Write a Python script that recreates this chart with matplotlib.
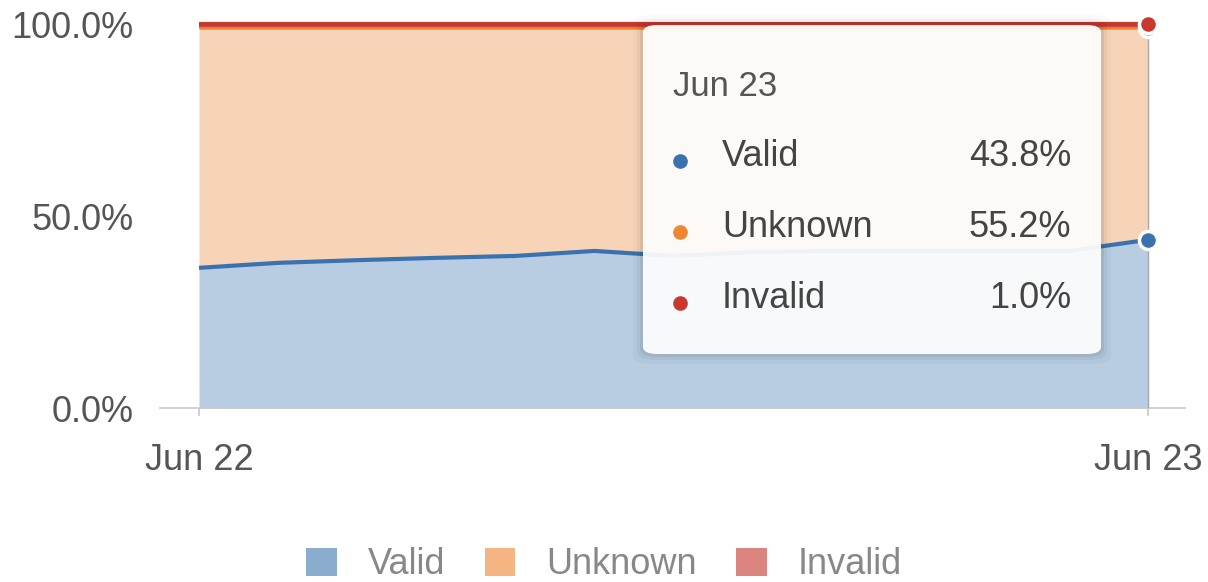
#!/usr/bin/env python3
"""Stacked share of Valid / Unknown / Invalid, Jun 22 -> Jun 23, with hover tooltip"""
import matplotlib
matplotlib.use('Agg')
import matplotlib.pyplot as plt
from matplotlib.patches import FancyBboxPatch, Patch

plt.rcParams['font.family'] = ['Liberation Sans', 'DejaVu Sans']

# hours since Jun 22 00:00, 2h steps
hours = [0, 2, 4, 6, 8, 10, 12, 14, 16, 18, 20, 22, 24]
valid = [36.5, 37.8, 38.5, 39.1, 39.6, 40.9, 39.6, 40.6, 40.9, 40.9, 40.9, 40.9, 43.8]
invalid = [1.0, 1.0, 1.0, 1.0, 1.0, 1.0, 1.0, 1.0, 1.0, 1.0, 1.0, 1.0, 1.0]
unknown = [100 - v - i for v, i in zip(valid, invalid)]
tick_hours = [0, 24]
tick_labels = ['Jun 22', 'Jun 23']
series_names = ['Valid', 'Unknown', 'Invalid']

BLUE = '#3a72b0'
ORANGE = '#f0862f'
RED = '#c9382f'
FILL_BLUE = '#b8cce2'
FILL_ORANGE = '#f7d4b7'
LEG_COLORS = ['#8aaccf', '#f4b583', '#dc8580']
FS = 26

W, H = 1208, 582
fig = plt.figure(figsize=(W / 100, H / 100), dpi=100)
ax = fig.add_axes([160 / W, 1 - 408 / H, (1185 - 160) / W, (408 - 24) / H])

top_unknown = [v + u for v, u in zip(valid, unknown)]
top = [t + i for t, i in zip(top_unknown, invalid)]

ax.fill_between(hours, 0, valid, color=FILL_BLUE, lw=0)
ax.fill_between(hours, valid, top_unknown, color=FILL_ORANGE, lw=0)
ax.fill_between(hours, top_unknown, top, color=RED, lw=0, alpha=0.9)
ax.plot(hours, valid, color=BLUE, lw=3.0, solid_capstyle='butt')
ax.plot(hours, top_unknown, color=ORANGE, lw=1.8, solid_capstyle='butt')
ax.plot(hours, top, color=RED, lw=3.0, solid_capstyle='butt', clip_on=False)

# x from 160px..1185px with data 0 at 199px and 24 at 1148px
px = (1148 - 199) / 24
ax.set_xlim(-(199 - 160) / px, 24 + (1185 - 1148) / px)
ax.set_ylim(0, 100)

ax.set_yticks([0, 50, 100])
ax.set_yticklabels(['0.0%', '50.0%', '100.0%'])
ax.set_xticks(tick_hours)
ax.set_xticklabels(tick_labels)
ax.tick_params(axis='y', length=0, pad=19, labelsize=FS, labelcolor='#555555')
ax.tick_params(axis='x', length=6, width=1.2, color='#c8c8c8', pad=19,
               labelsize=FS, labelcolor='#555555')
for side in ['left', 'right', 'top']:
    ax.spines[side].set_visible(False)
ax.spines['bottom'].set_color('#c8c8c8')
ax.spines['bottom'].set_linewidth(1.2)

# hover crosshair + markers at last point
hx = hours[-1]
ax.axvline(hx, color='#a8a8a8', lw=1.0, zorder=3)
ax.plot([hx], [top_unknown[-1]], 'o', ms=13, color=ORANGE, mec='white', mew=2.5,
        clip_on=False, zorder=5)
ax.plot([hx], [top[-1]], 'o', ms=13, color=RED, mec='white', mew=2.5,
        clip_on=False, zorder=6)
ax.plot([hx], [valid[-1]], 'o', ms=13, color=BLUE, mec='white', mew=2.5,
        clip_on=False, zorder=6)

# tooltip box (figure pixel coords)
x0, y0, x1, y1 = 643, 25, 1101, 354
for k, a in [(10, 0.025), (6, 0.04), (3, 0.06)]:
    fig.patches.append(FancyBboxPatch(
        ((x0 - k) / W, 1 - (y1 + k) / H), (x1 - x0 + 2 * k) / W, (y1 - y0 + 2 * k) / H,
        boxstyle='round,pad=0,rounding_size=0.015', transform=fig.transFigure,
        facecolor='#000000', edgecolor='none', alpha=a, zorder=7))
fig.patches.append(FancyBboxPatch(
    (x0 / W, 1 - y1 / H), (x1 - x0) / W, (y1 - y0) / H,
    boxstyle='round,pad=0,rounding_size=0.012', transform=fig.transFigure,
    facecolor='white', edgecolor='none', alpha=0.93, zorder=8))

fig.text(673 / W, 1 - 86 / H, 'Jun 23', fontsize=FS - 1, color='#555555',
         va='center', ha='left', zorder=9)
tip_vals = [valid[-1], unknown[-1], invalid[-1]]
tip_colors = [BLUE, ORANGE, RED]
for row, (name, val, c) in enumerate(zip(series_names, tip_vals, tip_colors)):
    yy = 1 - (157 + 71 * row) / H
    fig.text(722 / W, yy, name, fontsize=FS, color='#444444',
             va='center', ha='left', zorder=9)
    fig.text(1071 / W, yy, f'{val:.1f}%', fontsize=FS, color='#444444',
             va='center', ha='right', zorder=9)
    fig.lines.append(plt.Line2D([680 / W], [yy - 4 / H], marker='o', ms=9.5,
                                color=c, transform=fig.transFigure, zorder=9))

handles = [Patch(facecolor=c, edgecolor='none') for c in LEG_COLORS]
leg = fig.legend(handles, series_names, loc='center', bbox_to_anchor=(0.5, 1 - 565 / H),
                 ncol=3, frameon=False, fontsize=FS, handlelength=0.85,
                 handleheight=0.85, handletextpad=0.85, columnspacing=1.1)
for t in leg.get_texts():
    t.set_color('#888888')

plt.savefig('out.png', dpi=100)
